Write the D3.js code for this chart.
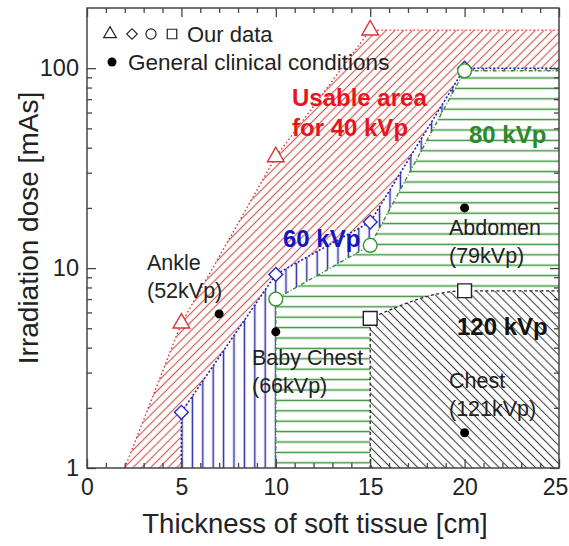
<!DOCTYPE html>
<html><head><meta charset="utf-8">
<script src="https://cdn.jsdelivr.net/npm/d3@7"></script>
<style>body{margin:0;background:#fff} svg{display:block} text{font-family:"Liberation Sans",Arial,sans-serif}</style>
</head><body><svg id="c" width="569" height="546"></svg>
<script>
// ---- data ----
const bound40 = [[2,1],[5,5.3],[10,36],[15,155],[25,155]];
const bound60 = [[5,1],[5,1.9],[10,9.3],[15,17],[20,100],[25,100]];
const bound80 = [[10,1],[10,7],[15,13],[20,97],[25,97]];
const bound120 = [[15,5.6],[20,7.7],[25,7.7]];
const pts40 = [[5,5.3],[10,36],[15,155]];
const pts60 = [[5,1.9],[10,9.3],[15,17],[20,100]];
const pts80 = [[10,7],[15,13],[20,97]];
const pts120 = [[15,5.6],[20,7.7]];
const clinicalNames = ["Ankle","Baby Chest","Abdomen","Chest"];
const clinicalKVp = ["(52kVp)","(66kVp)","(79kVp)","(121kVp)"];
const clinicalX = [7,10,20,20];
const clinicalY = [5.9,4.8,20,1.5];
const xTicks = [0,5,10,15,20,25];
const yTicks = [1,10,100];

// ---- layout ----
const svg = d3.select("#c");
const x = d3.scaleLinear([0,25],[87,559]);
const y = d3.scaleLog([1,200],[468,8]);

const defs = svg.append("defs");
function hatch(id, color, spacing, angle, width){
  const p = defs.append("pattern").attr("id",id).attr("patternUnits","userSpaceOnUse")
    .attr("width",spacing).attr("height",spacing)
    .attr("patternTransform",`rotate(${angle})`);
  p.append("line").attr("x1",spacing/2).attr("x2",spacing/2).attr("y1",-1).attr("y2",spacing+1)
    .attr("stroke",color).attr("stroke-width",width);
}
hatch("h40","#cf5f58",6.2,45,1.2);
hatch("h60","#2b2ba3",10.4,0,1.5);
hatch("h80","#3b963b",10.4,90,1.5);
hatch("h120","#444",6.4,-45,1.1);

const line = d3.line().x(d=>x(d[0])).y(d=>y(d[1]));
const lineC = d3.line().x(d=>x(d[0])).y(d=>y(d[1])).curve(d3.curveMonotoneX);

const g = svg.append("g");
function region(b, pat){
  const poly = b.concat([[25,1]]);
  g.append("path").attr("d",line(poly)+"Z").attr("fill","#fff");
  g.append("path").attr("d",line(poly)+"Z").attr("fill",`url(#${pat})`);
}
region(bound40,"h40");
region(bound60,"h60");
region(bound80,"h80");
const p120 = `M${x(15)},${y(1)}L` + lineC(bound120).slice(1) + `L${x(25)},${y(1)}Z`;
g.append("path").attr("d",p120).attr("fill","#fff");
g.append("path").attr("d",p120).attr("fill","url(#h120)");

// boundary lines
g.append("path").attr("d",line(bound40)).attr("fill","none").attr("stroke","#e03030").attr("stroke-width",1.4).attr("stroke-dasharray","1.5,2.5");
g.append("path").attr("d",line(bound60)).attr("fill","none").attr("stroke","#2020c0").attr("stroke-width",1.6).attr("stroke-dasharray","2,2");
g.append("path").attr("d",line(bound80)).attr("fill","none").attr("stroke","#2f8f2f").attr("stroke-width",1.4).attr("stroke-dasharray","4,2,1,2");
g.append("path").attr("d",`M${x(15)},${y(1)}L`+lineC(bound120).slice(1)).attr("fill","none").attr("stroke","#222").attr("stroke-width",1.3).attr("stroke-dasharray","3,2.5");

// markers
function markers(pts, type, color, size, rot){
  g.selectAll(null).data(pts).join("path")
    .attr("transform",d=>`translate(${x(d[0])},${y(d[1])}) rotate(${rot||0})`)
    .attr("d",d3.symbol().type(type).size(size))
    .attr("fill","#fff").attr("stroke",color).attr("stroke-width",1.4);
}
markers(pts40,d3.symbolTriangle,"#e03030",120);
markers(pts60,d3.symbolSquare,"#2727c8",95,45);
markers(pts80,d3.symbolCircle,"#2f9a2f",150);
markers(pts120,d3.symbolSquare,"#222",190);

// clinical points
g.selectAll(null).data(clinicalX).join("circle")
  .attr("cx",(d)=>x(d)).attr("cy",(d,i)=>y(clinicalY[i])).attr("r",4.5).attr("fill","#000");

// annotations
const ann = [[147,270],[252,365],[449,235],[449,388]];
ann.forEach((a,i)=>{
  svg.append("text").attr("x",a[0]).attr("y",a[1]).attr("font-size",21.5).attr("fill","#222").text(clinicalNames[i]);
  svg.append("text").attr("x",a[0]).attr("y",a[1]+28).attr("font-size",21.5).attr("fill","#222").text(clinicalKVp[i]);
});
svg.append("text").attr("x",292).attr("y",106).attr("font-size",24).attr("font-weight","bold").attr("fill","#e8141c").text("Usable area");
svg.append("text").attr("x",292).attr("y",136).attr("font-size",24).attr("font-weight","bold").attr("fill","#e8141c").text("for 40 kVp");
svg.append("text").attr("x",283).attr("y",247).attr("font-size",24).attr("font-weight","bold").attr("fill","#1515c0").text("60 kVp");
svg.append("text").attr("x",469).attr("y",143).attr("font-size",24).attr("font-weight","bold").attr("fill","#2a8a2a").text("80 kVp");
svg.append("text").attr("x",457).attr("y",335).attr("font-size",24).attr("font-weight","bold").attr("fill","#111").text("120 kVp");

// legend
const lg = svg.append("g");
[[d3.symbolTriangle,110,70,0],[d3.symbolSquare,132,55,45],[d3.symbolCircle,151,80,0],[d3.symbolSquare,172,90,0]].forEach(s=>{
  lg.append("path").attr("transform",`translate(${s[1]},34) rotate(${s[3]})`).attr("d",d3.symbol().type(s[0]).size(s[2]))
    .attr("fill","none").attr("stroke","#222").attr("stroke-width",1.2);
});
lg.append("text").attr("x",187).attr("y",42).attr("font-size",22).attr("fill","#222").text("Our data");
lg.append("circle").attr("cx",112).attr("cy",62).attr("r",4.5).attr("fill","#000");
lg.append("text").attr("x",128).attr("y",70).attr("font-size",22.5).attr("fill","#222").text("General clinical conditions");

// axes
const minorX = d3.range(0,26).filter(v=>v%5!==0);
const minorY = [2,3,4,5,6,7,8,9,20,30,40,50,60,70,80,90];
const ax = svg.append("g").attr("font-size",23);
function styleAxis(sel){ sel.select(".domain").remove(); sel.selectAll("line").attr("stroke","#444").attr("stroke-width",1.3); sel.selectAll("text").attr("fill","#222").attr("font-family",'"Liberation Sans",Arial,sans-serif'); }
const xAxisG = ax.append("g").attr("transform",`translate(0,${y(1)})`).call(d3.axisBottom(x).tickValues(xTicks).tickSize(-9).tickPadding(11)).call(styleAxis).attr("font-size",23);
xAxisG.selectAll(".tick text").filter(d=>d===25).attr("dx",-4);
ax.append("g").attr("transform",`translate(0,${y(1)})`).call(d3.axisBottom(x).tickValues(minorX).tickSize(-5).tickFormat("")).call(styleAxis);
ax.append("g").attr("transform",`translate(0,${y(200)})`).call(d3.axisTop(x).tickValues(xTicks).tickSize(-9).tickFormat("")).call(styleAxis);
ax.append("g").attr("transform",`translate(0,${y(200)})`).call(d3.axisTop(x).tickValues(minorX).tickSize(-5).tickFormat("")).call(styleAxis);
ax.append("g").attr("transform",`translate(${x(0)},0)`).call(d3.axisLeft(y).tickValues(yTicks).tickSize(-9).tickPadding(8).tickFormat(d3.format("d"))).call(styleAxis).attr("font-size",23.5);
ax.append("g").attr("transform",`translate(${x(0)},0)`).call(d3.axisLeft(y).tickValues(minorY).tickSize(-5).tickFormat("")).call(styleAxis);
ax.append("g").attr("transform",`translate(${x(25)},0)`).call(d3.axisRight(y).tickValues(yTicks).tickSize(-9).tickFormat("")).call(styleAxis);
ax.append("g").attr("transform",`translate(${x(25)},0)`).call(d3.axisRight(y).tickValues(minorY).tickSize(-5).tickFormat("")).call(styleAxis);

svg.append("rect").attr("x",x(0)).attr("y",y(200)).attr("width",x(25)-x(0)).attr("height",y(1)-y(200))
  .attr("fill","none").attr("stroke","#444").attr("stroke-width",1.5);

svg.append("text").attr("x",315).attr("y",533).attr("text-anchor","middle").attr("font-size",27.5).attr("fill","#222").text("Thickness of soft tissue [cm]");
svg.append("text").attr("transform",`translate(38,228) rotate(-90)`).attr("text-anchor","middle").attr("font-size",28).attr("fill","#222").text("Irradiation dose [mAs]");
</script></body></html>
